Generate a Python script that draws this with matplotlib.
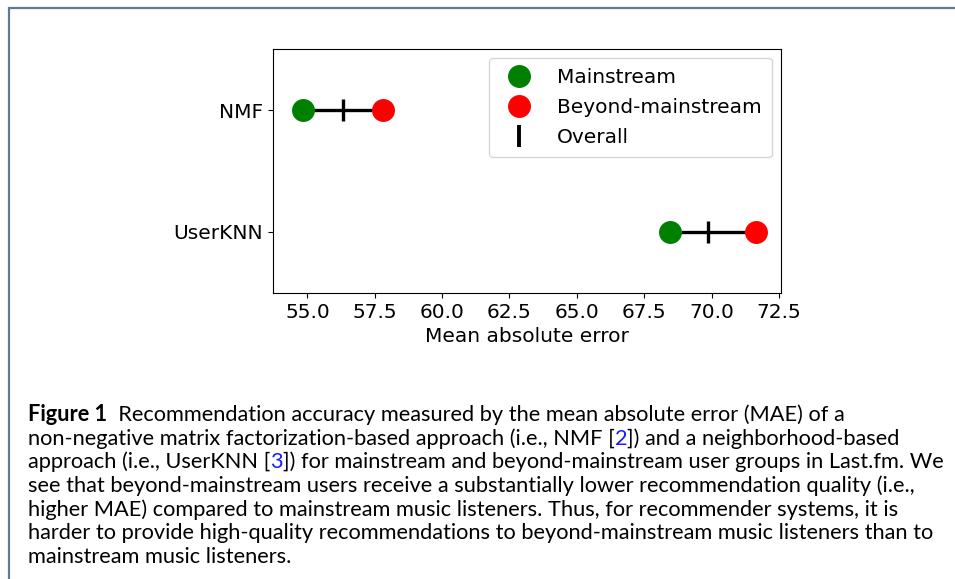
import matplotlib
matplotlib.use("Agg")
import matplotlib.pyplot as plt
from matplotlib.patches import Rectangle

# ---- data ----
methods = ["UserKNN", "NMF"]
mainstream = [68.47, 54.85]
beyond = [71.64, 57.80]
overall = [69.88, 56.33]
xticks = [55.0, 57.5, 60.0, 62.5, 65.0, 67.5, 70.0, 72.5]
legend_labels = ["Mainstream", "Beyond-mainstream", "Overall"]

caption_lines = [
    [("Figure 1", "black", "bold"), ("  Recommendation accuracy measured by the mean absolute error (MAE) of a", "black", "normal")],
    [("non-negative matrix factorization-based approach (i.e., NMF [", "black", "normal"), ("2", "#1a1aff", "normal"), ("]) and a neighborhood-based", "black", "normal")],
    [("approach (i.e., UserKNN [", "black", "normal"), ("3", "#1a1aff", "normal"), ("]) for mainstream and beyond-mainstream user groups in Last.fm. We", "black", "normal")],
    [("see that beyond-mainstream users receive a substantially lower recommendation quality (i.e.,", "black", "normal")],
    [("higher MAE) compared to mainstream music listeners. Thus, for recommender systems, it is", "black", "normal")],
    [("harder to provide high-quality recommendations to beyond-mainstream music listeners than to", "black", "normal")],
    [("mainstream music listeners.", "black", "normal")],
]

W, H = 955, 579
fig = plt.figure(figsize=(W / 100, H / 100), dpi=100)

# outer frame
fig.patches.append(Rectangle((8.5 / W, -0.1), 1.2, 1.1 - 7.5 / H, transform=fig.transFigure,
                             fill=False, edgecolor="#5d7a98", linewidth=1.6))

ax = fig.add_axes([273 / W, 1 - 293 / H, (781 - 273) / W, (293 - 49) / H])
y = list(range(len(methods)))
for i in y:
    ax.plot([mainstream[i], beyond[i]], [i, i], color="black", lw=2.4, zorder=1)
ax.plot(overall, y, linestyle="none", marker="|", color="black", ms=16, mew=2.4, zorder=2)
ax.plot(mainstream, y, linestyle="none", marker="o", color="green", ms=15.5, zorder=3)
ax.plot(beyond, y, linestyle="none", marker="o", color="red", ms=15.5, zorder=3)

ax.set_xlim(53.72, 72.58)
ax.set_ylim(-0.5, 1.5)
ax.set_xticks(xticks)
ax.set_xticklabels([f"{v:.1f}" for v in xticks])
ax.set_yticks(y)
ax.set_yticklabels(methods)
ax.tick_params(labelsize=14.5)
ax.set_xlabel("Mean absolute error", fontsize=14.5)

h1, = ax.plot([], [], linestyle="none", marker="o", color="green", ms=15.5)
h2, = ax.plot([], [], linestyle="none", marker="o", color="red", ms=15.5)
h3, = ax.plot([], [], linestyle="none", marker="|", color="black", ms=16, mew=2.8)
ax.legend([h1, h2, h3], legend_labels, loc="upper right", fontsize=14.5,
          labelspacing=0.55, borderpad=0.5, handletextpad=0.9, borderaxespad=0.45)

# caption
renderer = fig.canvas.get_renderer()
family = ["Lato", "DejaVu Sans"]
# fit font size on the longest line
probe = fig.text(0, 0, "".join(s[0] for s in caption_lines[2]), fontsize=13, family=family)
wpx = probe.get_window_extent(renderer).width
probe.remove()
size = 13 * (941 - 28) / wpx

base0, step = 421, 23.67
for k, segs in enumerate(caption_lines):
    x = 28.0
    yb = base0 + k * step
    for text, color, weight in segs:
        t = fig.text(x / W, 1 - yb / H, text, color=color, fontweight=weight,
                     fontsize=size, family=family, ha="left", va="baseline")
        x += t.get_window_extent(renderer).width

fig.savefig("out.png", dpi=100)
